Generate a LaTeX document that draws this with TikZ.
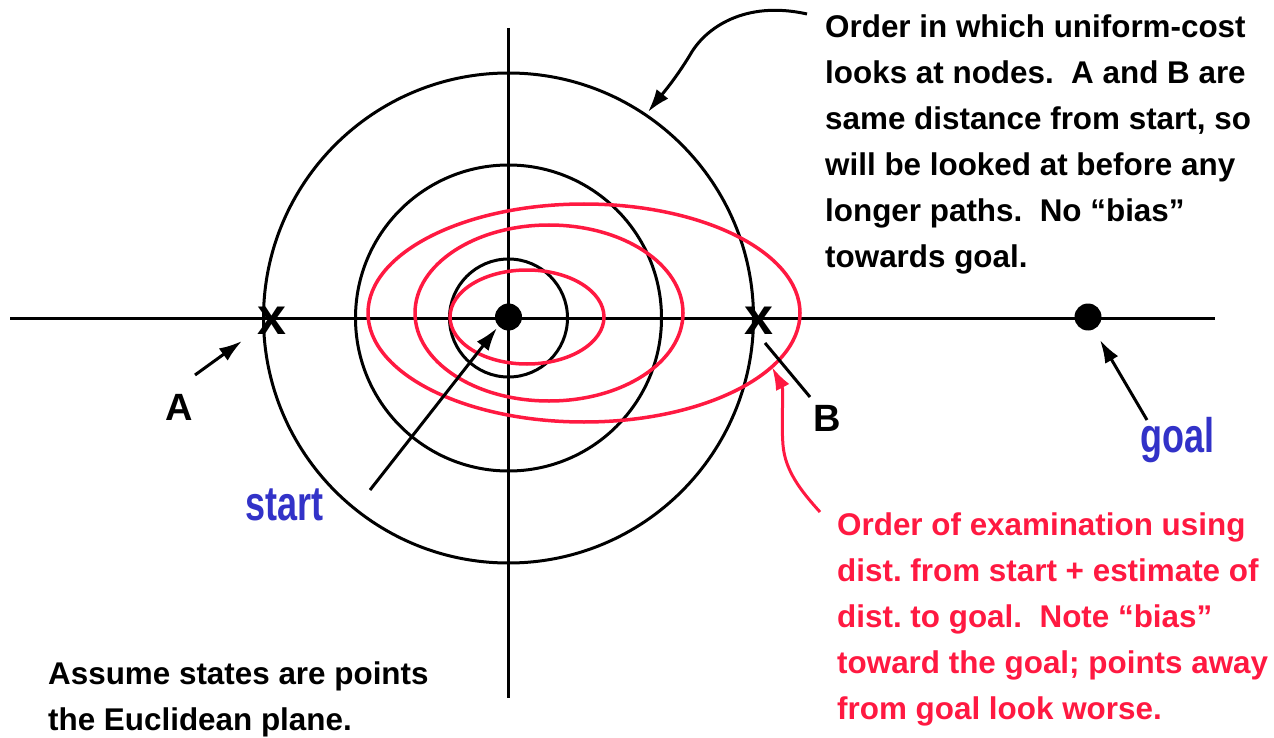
\documentclass[tikz,border=0pt]{standalone}
\usepackage{fontspec}
\usepackage{graphicx}
\setmainfont{Liberation Sans}
\usetikzlibrary{arrows.meta}
\definecolor{myred}{RGB}{255,25,65}
\definecolor{myblue}{RGB}{50,50,200}
\frenchspacing
\begin{document}
\begin{tikzpicture}[x=1pt,y=-1pt,
  blk/.style={line width=3pt,black},
  rd/.style={line width=3.5pt,myred},
  arr/.style={line width=3pt,-{Latex[length=23pt,width=15pt]}},
  para/.style={anchor=base west,align=left,inner sep=0pt,font=\fontsize{31.4}{46}\selectfont\bfseries},
  lbl/.style={anchor=base west,inner sep=0pt,font=\fontsize{38}{40}\selectfont\bfseries},
  blu/.style={anchor=base west,inner sep=0pt,text=myblue,font=\fontsize{36}{40}\selectfont\bfseries},
  xmark/.style={inner sep=0pt,font=\fontsize{52}{52}\selectfont\bfseries}
]
\useasboundingbox (0,0) rectangle (1274,738);
% axes
\coordinate (hl) at (10,318);
\coordinate (hr) at (1215,318);
\coordinate (vt) at (508,28);
\coordinate (vb) at (508,698);
\draw[blk] (hl) -- (hr);
\draw[blk] (vt) -- (vb);
% circles
\coordinate (o) at (508.5,318);
\draw[blk] (o) circle[radius=59];
\draw[blk] (o) circle[radius=153];
\draw[blk] (o) circle[radius=245];
% red ellipses
\draw[rd] (527,317) ellipse[x radius=77,y radius=47];
\draw[rd] (549,313) ellipse[x radius=134,y radius=88];
\draw[rd] (584,313) ellipse[x radius=216,y radius=109];
% dots
\node[circle,fill=black,minimum size=27pt,inner sep=0pt] (s) at (508.5,317) {};
\node[circle,fill=black,minimum size=27pt,inner sep=0pt] (g) at (1088,317) {};
% x marks
\node[xmark] (xa) at (272,321) {x};
\node[xmark] (xb) at (759,321) {x};
% labels
\node[lbl] (A) at (165,420) {A};
\node[lbl] (B) at (813,431) {B};
\node[blu] (goal) at (1140,452) {\scalebox{1}[1.35]{goal}};
\node[blu] (start) at (245,520) {\scalebox{1}[1.35]{start}};
% arrows
\coordinate (a1) at (195,375);
\coordinate (a2) at (242,341);
\draw[arr] (a1) -- (a2);
\coordinate (b1) at (810,397);
\coordinate (b2) at (765,343);
\draw[blk] (b1) -- (b2);
\coordinate (g1) at (1147,420);
\coordinate (g2) at (1100,340);
\draw[arr] (g1) -- (g2);
\coordinate (s1) at (370,490);
\coordinate (s2) at (497,328);
\draw[arr] (s1) -- (s2);
% top curved arrow
\coordinate (t1) at (807,14);
\coordinate (t2) at (690,55);
\coordinate (t3) at (648,112);
\draw[arr] (t1) .. controls (745,0) and (705,28) .. (t2) .. controls (676,78) and (664,92) .. (t3);
% red curved arrow
\coordinate (r1) at (820,512);
\coordinate (r2) at (783,445);
\coordinate (r3) at (772,367);
\draw[arr,myred,line width=3pt] (r1) .. controls (800,490) and (785,470) .. (r2) .. controls (781,420) and (784,390) .. (r3);
% paragraphs (base anchor = last line's baseline)
\node[para] (t) at (825,267) {Order in which uniform-cost\\looks at nodes.\ \ A and B are\\same distance from start, so\\will be looked at before any\\longer paths.\ \ No “bias”\\towards goal.};
\node[para,text=myred] (r) at (837,719) {Order of examination using\\dist. from start + estimate of\\dist. to goal.\ \ Note “bias”\\toward the goal; points away\\from goal look worse.};
\node[para] (n) at (48,730) {Assume states are points\\the Euclidean plane.};
\end{tikzpicture}
\end{document}
